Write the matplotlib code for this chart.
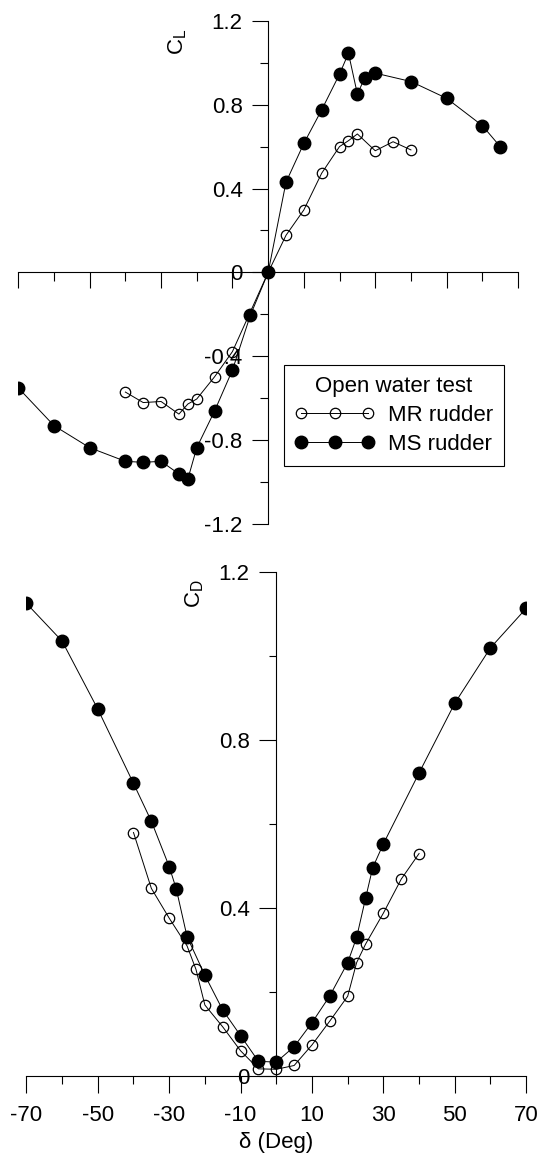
import matplotlib.pyplot as plt

plt.rcParams['font.family'] = ['Liberation Sans', 'DejaVu Sans']
plt.rcParams['axes.unicode_minus'] = False
plt.rcParams['mathtext.default'] = 'regular'

# lift coefficient, MS rudder
cl_ms_deg = [-70, -60, -50, -40, -35, -30, -25, -22.5, -20, -15, -10, -5, 0,
             5, 10, 15, 20, 22.5, 25, 27, 30, 40, 50, 60, 65]
cl_ms = [-0.55, -0.73, -0.835, -0.90, -0.905, -0.90, -0.96, -0.985, -0.835,
         -0.66, -0.465, -0.205, 0.0, 0.43, 0.615, 0.775, 0.945, 1.045, 0.85,
         0.925, 0.95, 0.91, 0.83, 0.70, 0.60]

# lift coefficient, MR rudder
cl_mr_deg = [-40, -35, -30, -25, -22.5, -20, -15, -10, 0,
             5, 10, 15, 20, 22.5, 25, 30, 35, 40]
cl_mr = [-0.57, -0.62, -0.615, -0.675, -0.627, -0.603, -0.497, -0.377, 0.0,
         0.177, 0.298, 0.473, 0.60, 0.628, 0.66, 0.58, 0.623, 0.584]

# drag coefficient, MS rudder
cd_ms_deg = [-70, -60, -50, -40, -35, -30, -28, -25, -20, -15, -10, -5, 0,
             5, 10, 15, 20, 22.5, 25, 27, 30, 40, 50, 60, 70]
cd_ms = [1.126, 1.036, 0.874, 0.697, 0.607, 0.499, 0.445, 0.332, 0.24, 0.157,
         0.096, 0.035, 0.033, 0.07, 0.127, 0.191, 0.27, 0.33, 0.423, 0.496,
         0.553, 0.722, 0.888, 1.02, 1.114]

# drag coefficient, MR rudder
cd_mr_deg = [-40, -35, -30, -25, -22.5, -20, -15, -10, -5, 0,
             5, 10, 15, 20, 22.5, 25, 30, 35, 40]
cd_mr = [0.58, 0.447, 0.376, 0.31, 0.254, 0.169, 0.117, 0.06, 0.017, 0.016,
         0.025, 0.074, 0.131, 0.19, 0.27, 0.314, 0.388, 0.469, 0.53]

x_major = [-70, -50, -30, -10, 10, 30, 50, 70]
x_minor = [-60, -40, -20, 0, 20, 40, 60]
x_labels = ['-70', '-50', '-30', '-10', '10', '30', '50', '70']

cl_major = [-1.2, -0.8, -0.4, 0, 0.4, 0.8, 1.2]
cl_minor = [-1.0, -0.6, -0.2, 0.2, 0.6, 1.0]
cl_labels = ['-1.2', '-0.8', '-0.4', '0', '0.4', '0.8', '1.2']

cd_major = [0, 0.4, 0.8, 1.2]
cd_minor = [0.2, 0.6, 1.0]
cd_labels = ['0', '0.4', '0.8', '1.2']

open_style = dict(color='black', lw=0.7, marker='o', ms=7.5, mfc='none',
                  mec='black', mew=0.9)
filled_style = dict(color='black', lw=0.7, marker='o', ms=9, mfc='black',
                    mec='black')


def cross_axes(ax):
    for side in ('top', 'right'):
        ax.spines[side].set_visible(False)
    for side in ('left', 'bottom'):
        ax.spines[side].set_linewidth(0.8)
    ax.spines['left'].set_position(('data', 0))
    ax.set_xlim(-70, 70)
    ax.set_xticks(x_major)
    ax.set_xticks(x_minor, minor=True)
    ax.tick_params(axis='both', which='both', direction='out', width=0.8,
                   labelsize=16)


fig = plt.figure(figsize=(5.41, 11.54), dpi=100)
ax_cl = fig.add_axes([0.0338, 0.5457, 0.9237, 0.4364])
ax_cd = fig.add_axes([0.0488, 0.0676, 0.9238, 0.4365])

# C_L panel
cross_axes(ax_cl)
ax_cl.spines['bottom'].set_position(('data', 0))
ax_cl.set_ylim(-1.2, 1.2)
ax_cl.set_yticks(cl_major, cl_labels)
ax_cl.set_yticks(cl_minor, minor=True)
ax_cl.tick_params(axis='x', which='major', length=11.5, labelbottom=False)
ax_cl.tick_params(axis='x', which='minor', length=6.5)
ax_cl.tick_params(axis='y', which='major', length=11.2, pad=7.2)
ax_cl.tick_params(axis='y', which='minor', length=5.8)

ax_cl.plot(cl_mr_deg, cl_mr, label='MR rudder', **open_style)
ax_cl.plot(cl_ms_deg, cl_ms, label='MS rudder', **filled_style)
ax_cl.text(-25.3, 1.10, r'$C_L$', rotation=90, ha='center', va='center',
           fontsize=16)

leg = ax_cl.legend(loc='upper left', bbox_to_anchor=(0.531, 0.316),
                   borderaxespad=0, title='Open water test', fontsize=16,
                   title_fontsize=16, numpoints=3, handlelength=3.6,
                   handletextpad=0.6, labelspacing=0.35, borderpad=0.5,
                   fancybox=False, edgecolor='black', framealpha=1)
leg.get_frame().set_linewidth(0.8)

# C_D panel
cross_axes(ax_cd)
ax_cd.set_ylim(0, 1.2)
ax_cd.set_xticks(x_major, x_labels)
ax_cd.set_yticks(cd_major, cd_labels)
ax_cd.set_yticks(cd_minor, minor=True)
ax_cd.tick_params(axis='x', which='major', length=12, pad=9)
ax_cd.tick_params(axis='x', which='minor', length=6)
ax_cd.tick_params(axis='y', which='major', length=12, pad=7.2)
ax_cd.tick_params(axis='y', which='minor', length=5)

ax_cd.plot(cd_mr_deg, cd_mr, **open_style)
ax_cd.plot(cd_ms_deg, cd_ms, **filled_style)
ax_cd.text(-22.8, 1.15, r'$C_D$', rotation=90, ha='center', va='center',
           fontsize=16)
ax_cd.set_xlabel('δ (Deg)', fontsize=16, labelpad=4)

fig.savefig('out.png', dpi=100)
